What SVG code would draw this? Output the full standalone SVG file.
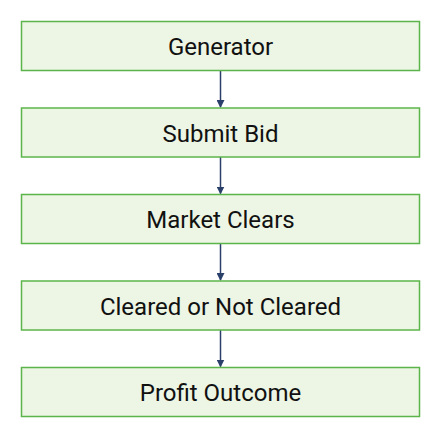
<svg xmlns="http://www.w3.org/2000/svg" width="439" height="438" viewBox="0 0 439 438">
<style>
.box{fill:#edf5e4;stroke:#5cb54a;stroke-width:1.5}
.lbl{font-family:Roboto,"Liberation Sans",sans-serif;font-size:24px;fill:#111;text-anchor:middle}
.conn{stroke:#2b3f6b;stroke-width:1.5;fill:none}
</style>
<defs>
<marker id="ah" markerWidth="8" markerHeight="8" refX="7" refY="4" orient="auto" markerUnits="userSpaceOnUse">
<path d="M0,0 L8,4 L0,8 z" fill="#2b3f6b"/>
</marker>
</defs>
<rect width="439" height="438" fill="#fff"/>
<g id="connectors">
<line class="conn" x1="220.5" y1="70.5" x2="220.5" y2="107" marker-end="url(#ah)"/>
<line class="conn" x1="220.5" y1="157" x2="220.5" y2="193.5" marker-end="url(#ah)"/>
<line class="conn" x1="220.5" y1="243.5" x2="220.5" y2="280" marker-end="url(#ah)"/>
<line class="conn" x1="220.5" y1="330" x2="220.5" y2="366.5" marker-end="url(#ah)"/>
</g>
<g id="n1"><rect class="box" x="21.5" y="21.5" width="398" height="49"/><text class="lbl" x="220.5" y="55">Generator</text></g>
<g id="n2"><rect class="box" x="21.5" y="108" width="398" height="49"/><text class="lbl" x="220.5" y="141.5">Submit Bid</text></g>
<g id="n3"><rect class="box" x="21.5" y="194.5" width="398" height="49"/><text class="lbl" x="220.5" y="228">Market Clears</text></g>
<g id="n4"><rect class="box" x="21.5" y="281" width="398" height="49"/><text class="lbl" x="220.5" y="314.5">Cleared or Not Cleared</text></g>
<g id="n5"><rect class="box" x="21.5" y="367.5" width="398" height="49"/><text class="lbl" x="220.5" y="401">Profit Outcome</text></g>
</svg>
